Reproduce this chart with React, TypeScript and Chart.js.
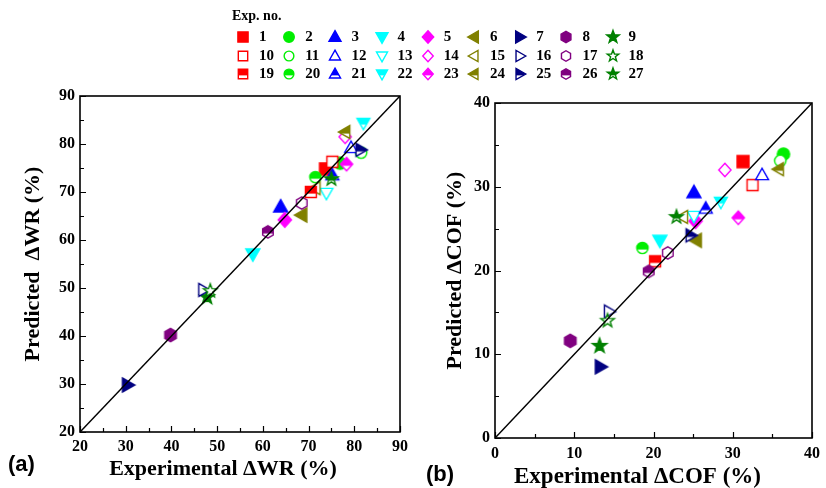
import React, { useEffect, useRef } from 'react';
import { Chart, registerables } from 'chart.js';

Chart.register(...registerables);

// ---------- data ----------
const expNo = [1, 2, 3, 4, 5, 6, 7, 8, 9, 10, 11, 12, 13, 14, 15, 16, 17, 18, 19, 20, 21, 22, 23, 24, 25, 26, 27];

const wrExperimental = [73.7, 76.9, 63.9, 57.8, 64.8, 68.5, 30.4, 39.8, 47.8, 75.2, 81.5, 79.3, 73.9, 78.0, 71.5, 47.0, 68.5, 48.5, 70.5, 71.5, 75.2, 82.0, 78.3, 78.0, 81.4, 61.1, 75.0];
const wrPredicted = [74.8, 76.0, 66.9, 57.1, 64.2, 65.2, 29.8, 40.2, 48.1, 76.3, 78.2, 79.2, 69.8, 81.5, 70.8, 49.6, 67.7, 49.4, 70.0, 73.1, 73.5, 84.4, 75.8, 82.5, 78.8, 61.7, 72.7];

const cofExperimental = [31.3, 36.4, 25.1, 20.8, 25.3, 25.4, 13.3, 9.5, 13.2, 32.5, 36.0, 33.7, 25.1, 29.0, 23.7, 14.4, 21.8, 14.2, 20.2, 18.6, 26.6, 28.5, 30.7, 35.8, 24.7, 19.4, 22.9];
const cofPredicted = [33.0, 33.9, 29.3, 23.6, 25.9, 23.6, 8.5, 11.6, 11.0, 30.2, 33.1, 31.4, 26.5, 32.0, 26.4, 15.1, 22.1, 14.0, 21.1, 22.7, 27.4, 28.2, 26.3, 32.1, 24.2, 19.9, 26.4];

const wrTicks = [20, 30, 40, 50, 60, 70, 80, 90];
const cofTicks = [0, 10, 20, 30, 40];

// ---------- styles ----------
type Shape = 'square' | 'circle' | 'up' | 'down' | 'diamond' | 'left' | 'right' | 'hex' | 'star';
const markerShapes: Shape[] = ['square', 'circle', 'up', 'down', 'diamond', 'left', 'right', 'hex', 'star'];
const markerColors = ['#FF0000', '#00EE00', '#0000FF', '#00FFFF', '#FF00FF', '#808000', '#000080', '#800080', '#008000'];
// fill kind per row of 9 experiments: 0 = filled, 1 = open, 2 = half filled
const SERIF = "'Liberation Serif', 'Times New Roman', serif";
const SANS = "'Liberation Sans', Arial, sans-serif";

function tracePath(ctx: CanvasRenderingContext2D, shape: Shape, r: number) {
  ctx.beginPath();
  const poly = (pts: number[][]) => {
    ctx.moveTo(pts[0][0], pts[0][1]);
    for (let i = 1; i < pts.length; i++) ctx.lineTo(pts[i][0], pts[i][1]);
    ctx.closePath();
  };
  switch (shape) {
    case 'square': {
      const s = r * 0.85;
      poly([[-s, -s], [s, -s], [s, s], [-s, s]]);
      break;
    }
    case 'circle':
      ctx.arc(0, 0, r * 0.88, 0, Math.PI * 2);
      ctx.closePath();
      break;
    case 'up':
      poly([[0, -r * 1.05], [r, r * 0.72], [-r, r * 0.72]]);
      break;
    case 'down':
      poly([[0, r * 1.05], [r, -r * 0.72], [-r, -r * 0.72]]);
      break;
    case 'left':
      poly([[-r * 1.05, 0], [r * 0.72, -r], [r * 0.72, r]]);
      break;
    case 'right':
      poly([[r * 1.05, 0], [-r * 0.72, -r], [-r * 0.72, r]]);
      break;
    case 'diamond':
      poly([[0, -r * 1.05], [r * 0.95, 0], [0, r * 1.05], [-r * 0.95, 0]]);
      break;
    case 'hex': {
      const pts: number[][] = [];
      for (let k = 0; k < 6; k++) {
        const a = -Math.PI / 2 + (k * Math.PI) / 3;
        pts.push([Math.cos(a) * r * 0.95, Math.sin(a) * r * 0.95]);
      }
      poly(pts);
      break;
    }
    case 'star': {
      const pts: number[][] = [];
      for (let k = 0; k < 10; k++) {
        const a = -Math.PI / 2 + (k * Math.PI) / 5;
        const rr = k % 2 === 0 ? r * 1.1 : r * 0.45;
        pts.push([Math.cos(a) * rr, Math.sin(a) * rr]);
      }
      poly(pts);
      break;
    }
  }
}

function drawMarker(c: HTMLCanvasElement, shape: Shape, color: string, fill: number, r: number) {
  const size = c.width;
  const ctx = c.getContext('2d')!;
  ctx.clearRect(0, 0, size, size);
  ctx.save();
  ctx.translate(size / 2, size / 2);
  ctx.lineWidth = 1.4;
  ctx.lineJoin = 'miter';
  ctx.strokeStyle = color;
  const rr = fill === 0 ? r : r * 0.92;
  tracePath(ctx, shape, rr);
  if (fill === 0) {
    ctx.fillStyle = color;
    ctx.fill();
    ctx.stroke();
  } else if (fill === 1) {
    ctx.fillStyle = '#ffffff';
    ctx.fill();
    ctx.stroke();
  } else {
    ctx.fillStyle = '#ffffff';
    ctx.fill();
    ctx.save();
    ctx.clip();
    ctx.fillStyle = color;
    ctx.fillRect(-size, -size, 2 * size, size + rr * 0.25);
    ctx.restore();
    tracePath(ctx, shape, rr);
    ctx.stroke();
  }
  ctx.restore();
}

function makeMarker(i: number, r: number): HTMLCanvasElement {
  const c = document.createElement('canvas');
  const size = Math.ceil(2 * r + 6);
  c.width = size;
  c.height = size;
  drawMarker(c, markerShapes[i % 9], markerColors[i % 9], Math.floor(i / 9), r);
  return c;
}

const frameTicksPlugin = {
  id: 'frameTicks',
  afterDraw(chart: any) {
    const { ctx, chartArea: a, scales } = chart;
    const xs = scales.x;
    const ys = scales.y;
    ctx.save();
    ctx.strokeStyle = '#000';
    ctx.lineWidth = 1.2;
    ctx.beginPath();
    for (let v = xs.min; v <= xs.max + 1e-9; v += 5) {
      const px = Math.round(xs.getPixelForValue(v)) + 0.5;
      const len = Math.round(v) % 10 === 0 ? 6 : 4;
      ctx.moveTo(px, a.bottom);
      ctx.lineTo(px, a.bottom - len);
    }
    for (let v = ys.min; v <= ys.max + 1e-9; v += 5) {
      const py = Math.round(ys.getPixelForValue(v)) + 0.5;
      const len = Math.round(v) % 10 === 0 ? 6 : 4;
      ctx.moveTo(a.left, py);
      ctx.lineTo(a.left + len, py);
    }
    ctx.stroke();
    ctx.lineWidth = 1.6;
    ctx.strokeRect(a.left, a.top, a.right - a.left, a.bottom - a.top);
    ctx.restore();
  },
};

// x-axis title drawn under the plot, with a horizontal offset from the plot centre
const xTitlePlugin = {
  id: 'xTitle',
  afterDraw(chart: any, _args: any, opts: any) {
    const { ctx, chartArea: a } = chart;
    ctx.save();
    ctx.font = `bold ${opts.size}px ${SERIF}`;
    ctx.fillStyle = '#000';
    ctx.textAlign = 'center';
    ctx.textBaseline = 'middle';
    ctx.fillText(opts.text, (a.left + a.right) / 2 + opts.shift, opts.y);
    ctx.restore();
  },
};

interface PanelSpec {
  xs: number[];
  ys: number[];
  ticks: number[];
  xTitle: string;
  yTitle: string;
  padTop: number;
  padRight: number;
  yAxisW: number;
  xAxisH: number;
  xTitleY: number;
  xTitleShift: number;
  xTitleSize: number;
  yTitlePad: number;
  xTickPad: number;
}

function makeConfig(p: PanelSpec): any {
  const lo = p.ticks[0];
  const hi = p.ticks[p.ticks.length - 1];
  const tickFont = { family: SERIF, weight: 'bold' as const, size: 16 };
  const titleFont = { family: SERIF, weight: 'bold' as const, size: 22, lineHeight: 1 };
  const points = expNo.map((n, i) => ({
    label: String(n),
    data: [{ x: p.xs[i], y: p.ys[i] }],
    pointStyle: makeMarker(i, 7),
    pointRadius: 7,
    showLine: false,
    order: 100 - i,
  }));
  return {
    type: 'scatter',
    data: {
      datasets: [
        {
          label: 'y = x',
          data: [
            { x: lo, y: lo },
            { x: hi, y: hi },
          ],
          showLine: true,
          borderColor: '#000',
          borderWidth: 1.5,
          pointRadius: 0,
          order: 0,
        },
        ...points,
      ],
    },
    options: {
      animation: false,
      responsive: false,
      devicePixelRatio: 1,
      events: [],
      layout: { padding: { left: 0, top: p.padTop, right: p.padRight, bottom: 0 } },
      plugins: {
        legend: { display: false },
        tooltip: { enabled: false },
        xTitle: { text: p.xTitle, shift: p.xTitleShift, y: p.xTitleY, size: p.xTitleSize },
      },
      scales: {
        x: {
          type: 'linear',
          min: lo,
          max: hi,
          ticks: { stepSize: 10, font: tickFont, color: '#000', padding: p.xTickPad, maxRotation: 0, autoSkip: false },
          grid: { display: false, drawTicks: false },
          border: { display: false },
          title: { display: false },
          afterFit: (s: any) => {
            s.height = p.xAxisH;
          },
        },
        y: {
          type: 'linear',
          min: lo,
          max: hi,
          ticks: { stepSize: 10, font: tickFont, color: '#000', padding: 5, autoSkip: false },
          grid: { display: false, drawTicks: false },
          border: { display: false },
          title: { display: true, text: p.yTitle, font: titleFont, color: '#000', padding: { top: p.yTitlePad, bottom: 0 } },
          afterFit: (s: any) => {
            s.width = p.yAxisW;
          },
        },
      },
    },
    plugins: [frameTicksPlugin, xTitlePlugin],
  };
}

function LegendMarker({ i }: { i: number }) {
  const ref = useRef<HTMLCanvasElement>(null);
  useEffect(() => {
    if (ref.current) drawMarker(ref.current, markerShapes[i % 9], markerColors[i % 9], Math.floor(i / 9), 6);
  }, [i]);
  return <canvas ref={ref} width={18} height={18} style={{ position: 'absolute', left: -9, top: -9 }} />;
}

export default function App() {
  const refA = useRef<HTMLCanvasElement>(null);
  const refB = useRef<HTMLCanvasElement>(null);

  useEffect(() => {
    const a = new Chart(
      refA.current!,
      makeConfig({
        xs: wrExperimental,
        ys: wrPredicted,
        ticks: wrTicks,
        xTitle: 'Experimental \u0394WR (%)',
        yTitle: 'Predicted  \u0394WR (%)',
        padTop: 96,
        padRight: 11,
        yAxisW: 80,
        xAxisH: 56,
        xTitleY: 469,
        xTitleShift: -17,
        xTitleSize: 22,
        yTitlePad: 22,
        xTickPad: 5,
      })
    );
    const b = new Chart(
      refB.current!,
      makeConfig({
        xs: cofExperimental,
        ys: cofPredicted,
        ticks: cofTicks,
        xTitle: 'Experimental \u0394COF (%)',
        yTitle: 'Predicted \u0394COF (%)',
        padTop: 103,
        padRight: 8,
        yAxisW: 82,
        xAxisH: 50,
        xTitleY: 477,
        xTitleShift: -16,
        xTitleSize: 23,
        yTitlePad: 31,
        xTickPad: 6,
      })
    );
    return () => {
      a.destroy();
      b.destroy();
    };
  }, []);

  return (
    <div style={{ position: 'absolute', left: 0, top: 0, width: 826, height: 488, background: '#fff', overflow: 'hidden' }}>
      <canvas ref={refA} width={413} height={488} style={{ position: 'absolute', left: 0, top: 0 }} />
      <canvas ref={refB} width={413} height={488} style={{ position: 'absolute', left: 413, top: 0 }} />
      <div style={{ position: 'absolute', left: 232, top: 8, font: `bold 14px ${SERIF}`, color: '#000' }}>Exp. no.</div>
      {expNo.map((n, i) => {
        const row = Math.floor(i / 9);
        const col = i % 9;
        const cx = 243 + col * 46.2;
        const cy = 37 + row * 18.5;
        return (
          <div key={n} style={{ position: 'absolute', left: cx, top: cy, width: 0, height: 0 }}>
            <LegendMarker i={i} />
            <span
              style={{
                position: 'absolute',
                left: 16,
                top: -9,
                lineHeight: '18px',
                font: `bold 15px ${SERIF}`,
                color: '#000',
                whiteSpace: 'nowrap',
              }}
            >
              {n}
            </span>
          </div>
        );
      })}
      <div style={{ position: 'absolute', left: 8, top: 451, font: `bold 22px ${SANS}`, color: '#000' }}>(a)</div>
      <div style={{ position: 'absolute', left: 426, top: 461, font: `bold 22px ${SANS}`, color: '#000' }}>(b)</div>
    </div>
  );
}
